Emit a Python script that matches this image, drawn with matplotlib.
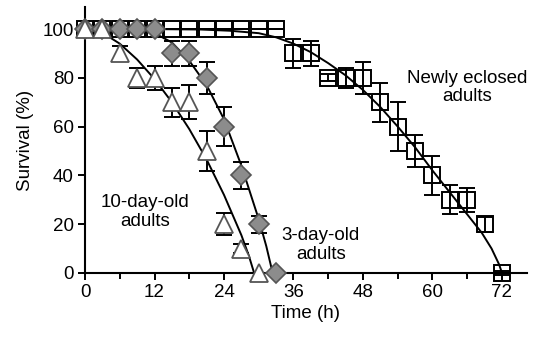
import matplotlib
matplotlib.use("Agg")
import matplotlib.pyplot as plt

# ---- data ----
t_new = [0, 3, 6, 9, 12, 15, 18, 21, 24, 27, 30, 33, 36, 39, 42, 45, 48, 51, 54, 57, 60, 63, 66, 69, 72]
s_new = [100, 100, 100, 100, 100, 100, 100, 100, 100, 100, 100, 100, 90, 90, 80, 80, 80, 70, 60, 50, 40, 30, 30, 20, 0]
e_new = [0, 0, 0, 0, 0, 0, 0, 0, 0, 0, 0, 0, 6, 5, 1.5, 4, 6.5, 8, 10, 6.5, 8, 6, 5, 3, 1]

t_3d = [0, 3, 6, 9, 12, 15, 18, 21, 24, 27, 30, 33]
s_3d = [100, 100, 100, 100, 100, 90, 90, 80, 60, 40, 20, 0]
e_3d = [0, 0, 0, 0, 0, 5, 5, 6.5, 8, 5.5, 3.5, 0]

t_10d = [0, 3, 6, 9, 12, 15, 18, 21, 24, 27, 30]
s_10d = [100, 100, 90, 80, 80, 70, 70, 50, 20, 10, 0]
e_10d = [0, 0, 3, 4, 5, 6, 7, 8, 4.5, 2, 0]

# fitted curves
fit_new_t = [0, 10, 20, 25, 30, 33, 36, 39, 42, 45, 48, 51, 54, 57, 60, 63, 66, 68.5, 70.2, 71.5, 72]
fit_new_s = [100, 100, 99.8, 99.3, 98.3, 96.6, 94, 90.5, 86, 81, 75, 68, 60, 51.5, 42, 33, 24, 16.5, 10, 3.5, 0]

fit_3d_t = [0, 6, 9, 12, 15, 18, 21, 24, 27, 30, 31.3, 32.4]
fit_3d_s = [100, 100, 99.5, 98.3, 94.5, 87, 77, 63, 44, 22, 11, 0]

fit_10d_t = [0, 3, 6, 9, 12, 15, 18, 21, 24, 27, 28.3, 29.2]
fit_10d_s = [100, 98.5, 94, 87.5, 79.5, 70, 59, 46.5, 32, 15.5, 7, 0]

x_ticks = [0, 12, 24, 36, 48, 60, 72]
y_ticks = [0, 20, 40, 60, 80, 100]

plt.rcParams['font.family'] = ['Liberation Sans', 'DejaVu Sans']
fig = plt.figure(figsize=(5.46, 3.37), dpi=100)
ax = fig.add_axes([0.1557, 0.19, 0.965 - 0.1557, 0.979 - 0.19])

fs = 13.5
lw = 1.4
# fit lines
ax.plot(fit_new_t, fit_new_s, color='black', lw=lw, zorder=2, clip_on=False)
ax.plot(fit_3d_t, fit_3d_s, color='black', lw=lw, zorder=2, clip_on=False)
ax.plot(fit_10d_t, fit_10d_s, color='black', lw=lw, zorder=2, clip_on=False)

ekw = dict(fmt='none', ecolor='black', elinewidth=1.4, capsize=5.5, capthick=1.4, clip_on=False)
ax.errorbar(t_new, s_new, yerr=e_new, zorder=1, **ekw)
ax.errorbar(t_3d, s_3d, yerr=e_3d, zorder=1, **ekw)
ax.errorbar(t_10d, s_10d, yerr=e_10d, zorder=1, **ekw)

ax.plot(t_new, s_new, linestyle='none', marker='s', markersize=11.5, markerfacecolor='none',
        markeredgecolor='black', markeredgewidth=1.4, zorder=3, clip_on=False)
ax.plot(t_3d, s_3d, linestyle='none', marker='D', markersize=10.5, markerfacecolor='#8c8c8c',
        markeredgecolor='#555555', markeredgewidth=1.2, zorder=4, clip_on=False)
ax.plot(t_10d, s_10d, linestyle='none', marker='^', markersize=13, markerfacecolor='white',
        markeredgecolor='#555555', markeredgewidth=1.3, zorder=5, clip_on=False)

ax.set_xlim(0, 76.3)
ax.set_ylim(0, 109)
ax.set_xticks(x_ticks)
ax.set_xticks([6, 18, 30, 42, 54, 66], minor=True)
ax.set_yticks(y_ticks)
ax.tick_params(axis='both', which='major', direction='out', length=5, width=1.4, labelsize=fs, pad=3)
ax.tick_params(axis='x', which='minor', direction='out', length=4.5, width=1.4)
for side in ['top', 'right']:
    ax.spines[side].set_visible(False)
for side in ['left', 'bottom']:
    ax.spines[side].set_linewidth(1.5)

ax.set_xlabel('Time (h)', fontsize=fs, labelpad=3)
ax.set_ylabel('Survival (%)', fontsize=fs, labelpad=6)

ax.text(66, 76, 'Newly eclosed\nadults', ha='center', va='center', fontsize=fs, linespacing=1.1)
ax.text(10.3, 25, '10-day-old\nadults', ha='center', va='center', fontsize=fs, linespacing=1.1)
ax.text(40.7, 11.5, '3-day-old\nadults', ha='center', va='center', fontsize=fs, linespacing=1.1)

fig.savefig('out.png', dpi=100)
